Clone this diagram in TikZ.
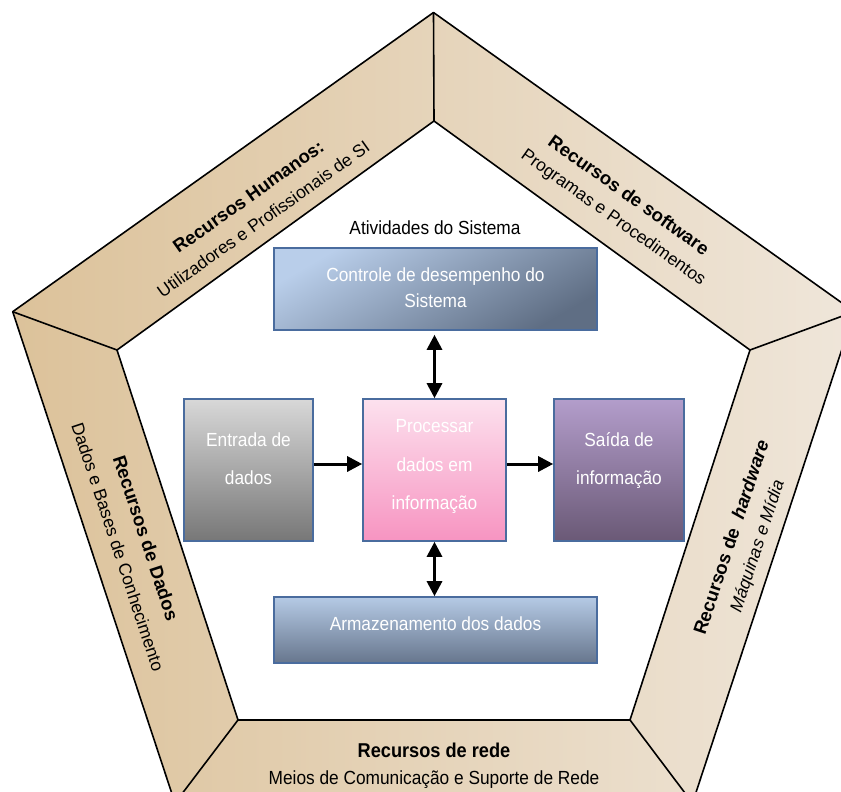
\documentclass[tikz,border=0pt]{standalone}
\usepackage{fontspec}
\setmainfont{Liberation Sans}
\newfontfamily\condfont[FakeStretch=0.91]{Liberation Sans}
\usetikzlibrary{arrows.meta}

\definecolor{ringdark}{HTML}{DCC29A}
\definecolor{ringlight}{HTML}{EFE6DA}
\definecolor{boxrim}{HTML}{4A6C9E}
\definecolor{ctrltop}{HTML}{B9CEEA}
\definecolor{ctrlbot}{HTML}{5F6E84}
\definecolor{armtop}{HTML}{B5CAE5}
\definecolor{armbot}{HTML}{67768D}
\definecolor{enttop}{HTML}{D8D8D8}
\definecolor{entbot}{HTML}{777777}
\definecolor{proctop}{HTML}{FCE1EE}
\definecolor{procbot}{HTML}{F794C1}
\definecolor{saitop}{HTML}{B39DCB}
\definecolor{saibot}{HTML}{6A5976}

\begin{document}
\begin{tikzpicture}[x=1pt,y=-1pt,
  >={Triangle[length=15pt,width=15pt]},
  edge/.style={line width=1.6pt, line join=round},
  box/.style={draw=boxrim, line width=1.6pt, inner sep=0pt},
  boxtext/.style={text=white, font=\condfont\fontsize{19}{19}\selectfont, anchor=base, inner sep=0pt},
  plaintext/.style={font=\condfont\fontsize{19}{19}\selectfont, anchor=base, inner sep=0pt},
  bandtitle/.style={font=\bfseries\fontsize{18.5}{18.5}\selectfont, inner sep=0pt, text height=13pt, text depth=0pt},
  bandsub/.style={font=\fontsize{17.5}{17.5}\selectfont, inner sep=0pt, text height=12.5pt, text depth=0pt},
  link/.style={line width=3pt, ->},
  duplex/.style={line width=3pt, <->},
]
% page frame
\useasboundingbox (0,0) rectangle (841,792);
\fill[white] (0,0) rectangle (841,792);
\clip (0,0) rectangle (841,792);

% outer and inner pentagon corners
\coordinate (oT)  at (433.5,12.5);
\coordinate (oR)  at (854.3,311.7);
\coordinate (oBR) at (692.5,803);
\coordinate (oBL) at (175,803);
\coordinate (oL)  at (12.7,311.7);
\coordinate (iT)  at (434,121);
\coordinate (iR)  at (750,350);
\coordinate (iBR) at (630,720);
\coordinate (iBL) at (238,720);
\coordinate (iL)  at (117,350);

% the resource ring
\shade[left color=ringdark, right color=ringlight] (oT) -- (oR) -- (oBR) -- (oBL) -- (oL) -- cycle;
\fill[white] (iT) -- (iR) -- (iBR) -- (iBL) -- (iL) -- cycle;
\draw[edge] (oT) -- (oR) -- (oBR) -- (oBL) -- (oL) -- cycle;
\draw[edge] (iT) -- (iR) -- (iBR) -- (iBL) -- (iL) -- cycle;
\draw[edge] (oT) -- (iT);
\draw[edge] (oR) -- (iR);
\draw[edge] (oBR) -- (iBR);
\draw[edge] (oBL) -- (iBL);
\draw[edge] (oL) -- (iL);

% ring labels
\node[bandtitle, rotate=35.4] (hum-t) at (248.3,196.5) {Recursos Humanos:};
\node[bandsub, rotate=35.4] (hum-s) at (263.3,219) {Utilizadores e Profissionais de SI};
\node[bandtitle, rotate=-35.4] (sw-t) at (629,195) {Recursos de software};
\node[bandsub, rotate=-35.4] (sw-s) at (614,216.7) {Programas e Procedimentos};
\node[bandtitle, rotate=-71.7] (dad-t) at (146,538) {Recursos de Dados};
\node[bandsub, rotate=-71.7] (dad-s) at (118,547) {Dados e Bases de Conhecimento};
\node[bandtitle, rotate=71.7] (hw-t) at (731,537) {Recursos de\ \ \textit{hardware}};
\node[bandsub, rotate=71.7] (hw-s) at (756.5,546) {\itshape Máquinas e Mídia};
\node[plaintext, font=\condfont\bfseries\fontsize{20}{20}\selectfont] (rede-t) at (434,757) {Recursos de rede};
\node[plaintext] (rede-s) at (434,784) {Meios de Comunicação e Suporte de Rede};

% system activities
\node[plaintext] (ativ) at (435,234) {Atividades do Sistema};

\node[box, minimum width=323pt, minimum height=82pt,
      top color=ctrltop, bottom color=ctrlbot, shading angle=30] (ctrl) at (435.5,289) {};
\node[box, minimum width=129pt, minimum height=142pt,
      top color=enttop, bottom color=entbot] (ent) at (248.5,470) {};
\node[box, minimum width=143pt, minimum height=142pt,
      top color=proctop, bottom color=procbot] (proc) at (434.5,470) {};
\node[box, minimum width=130pt, minimum height=142pt,
      top color=saitop, bottom color=saibot] (sai) at (619,470) {};
\node[box, minimum width=323pt, minimum height=66pt,
      top color=armtop, bottom color=armbot] (arm) at (435.5,630) {};

\node[boxtext] (ctrl-a) at (435.5,281.7) {Controle de desempenho do};
\node[boxtext] (ctrl-b) at (435.5,307.3) {Sistema};
\node[boxtext] (ent-a) at (248.5,446.7) {Entrada de};
\node[boxtext] (ent-b) at (248.5,484.3) {dados};
\node[boxtext] (proc-a) at (434.5,432.3) {Processar};
\node[boxtext] (proc-b) at (434.5,471.7) {dados em};
\node[boxtext] (proc-c) at (434.5,509) {informação};
\node[boxtext] (sai-a) at (619,446.7) {Saída de};
\node[boxtext] (sai-b) at (619,484.3) {informação};
\node[boxtext] (arm-a) at (435.5,630) {Armazenamento dos dados};

% flows between activities
\draw[duplex, shorten >=4pt] (proc.north) -- (proc.north |- ctrl.south);
\draw[duplex] (proc.south) -- (proc.south |- arm.north);
\draw[link] ([yshift=6pt]ent.east) -- ([yshift=6pt]proc.west);
\draw[link] ([yshift=6pt]proc.east) -- ([yshift=6pt]sai.west);
\end{tikzpicture}
\end{document}
